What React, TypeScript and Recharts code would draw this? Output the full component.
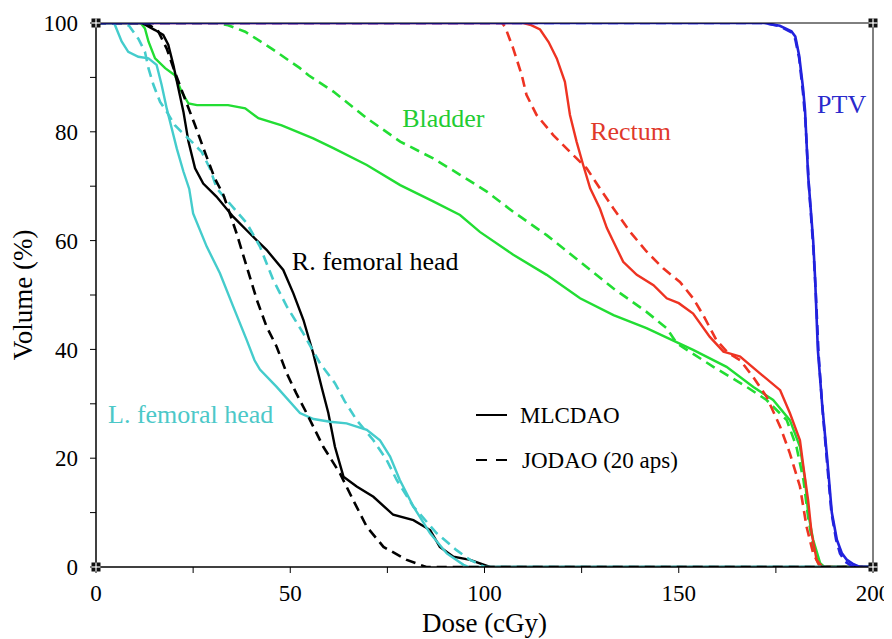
import { LineChart, Line, XAxis, YAxis, Legend, ReferenceDot } from 'recharts';

const FONT = '"Liberation Serif", "Times New Roman", serif';

// dose (cGy), volume (%) pairs
const ptvSolid: [number, number][] = [
  [0, 100], [172, 100], [176, 99.5], [179, 98.5], [180, 97.5], [181, 94], [182, 88], [182.5, 84],
  [183.3, 72], [184.6, 60], [185.1, 53], [185.8, 40], [186.9, 30], [188.2, 20], [189.4, 10],
  [190.7, 5], [192, 2.5], [193.3, 1.3], [195, 0.5], [196.6, 0], [200, 0],
];
const ptvDashed: [number, number][] = [
  [0, 100], [172, 100], [176, 99.4], [179, 98.3], [180, 97], [181, 93.5], [182, 87], [182.6, 82],
  [183.5, 70], [184.7, 58], [185.3, 50], [186, 39], [187, 29], [188.2, 19], [189.3, 10],
  [190.5, 5], [191.5, 2.5], [192.8, 1], [194.5, 0.2], [195.5, 0], [200, 0],
];
const rectumSolid: [number, number][] = [
  [0, 100], [110, 100], [112, 99.6], [114.3, 98.8], [116.5, 96.5], [118.6, 93.5], [120.7, 89.2],
  [122, 83.1], [123.7, 78.2], [125.4, 73.9], [127.2, 69.6], [129.7, 65.9], [131.5, 62.3],
  [133.2, 59.8], [135.7, 56.1], [139.2, 53.7], [143.5, 51.8], [146.9, 49.4], [150, 48.5],
  [153.7, 46.6], [158, 42.3], [161.5, 39.6], [165.8, 38.7], [170.9, 35.6], [176.1, 32.5],
  [178.6, 28.3], [181.2, 23.3], [182.1, 18.4], [183.3, 12.3], [184.2, 6.2], [185.5, 1.3],
  [187, 0], [200, 0],
];
const rectumDashed: [number, number][] = [
  [0, 100], [104.5, 100], [105.3, 99.3], [107.4, 95.3], [109.6, 90.4], [110.8, 86.8], [113.4, 83.1],
  [117.7, 79.4], [122, 76.3], [126.3, 73.3], [129.7, 69.6], [133.2, 65.9], [137.5, 61.6],
  [141.7, 58], [146, 54.9], [150.3, 52.4], [153.7, 49.4], [156.3, 46.3], [159.7, 41.7],
  [162.5, 39.5], [165.8, 38], [169.1, 35], [172.6, 31.3], [176.1, 25.8], [178.6, 20.9],
  [181.2, 14.8], [182.9, 7.4], [184.6, 2.5], [186.4, 0], [200, 0],
];
const bladderSolid: [number, number][] = [
  [0, 100], [11.5, 100], [12.6, 99], [13.5, 96.6], [15.2, 93.5], [17.8, 91.7], [20.3, 90.4],
  [22, 87.4], [23.8, 85.2], [26, 84.9], [34, 84.9], [38.4, 84.3], [41.8, 82.5], [47.8, 81.2],
  [55.9, 78.8], [61.1, 77], [69.7, 73.9], [78.3, 70.2], [86.8, 67.2], [93.7, 64.7], [98.8, 61.6],
  [107.4, 57.4], [116, 53.7], [124.6, 49.4], [133.2, 46.3], [141.7, 43.9], [153.7, 39.9],
  [162.3, 36.8], [169.2, 33.1], [174.3, 30.7], [178.6, 27], [181.2, 22.1], [182.5, 16],
  [183.3, 9.9], [184.6, 5], [186.4, 0.7], [187.5, 0], [200, 0],
];
const bladderDashed: [number, number][] = [
  [0, 100], [31, 100], [34, 99.6], [38.4, 98.4], [45.2, 95.3], [52.5, 91.7], [54.7, 90.4],
  [61.1, 87.4], [69.7, 82.5], [78.3, 78.2], [86.8, 75.1], [93.7, 72.1], [100.6, 69], [107.4, 65.3],
  [116, 61], [124.6, 56.1], [133.2, 51.2], [141.7, 46.9], [146.9, 43.9], [149.5, 41.1],
  [158.9, 36.8], [167.5, 33.1], [172.6, 30.7], [177.8, 27], [180.3, 22.1], [182.1, 16],
  [183.3, 9.2], [184.6, 3.7], [185.9, 0.7], [187, 0], [200, 0],
];
const rFemSolid: [number, number][] = [
  [0, 100], [11.8, 100], [15.2, 98.7], [17.3, 97.8], [18.6, 96], [19.9, 92.3], [21.2, 88],
  [22.5, 83.7], [23.8, 78.2], [25.5, 73.3], [27.6, 70.5], [31, 68.1], [35.3, 64.4], [39.6, 61.3],
  [43.9, 58.3], [48.2, 54.6], [50.8, 50.3], [53.4, 45.4], [55.9, 39.3], [58.1, 33], [59.8, 28.3],
  [61.5, 22.1], [63.7, 16.6], [67.1, 14.8], [71.4, 12.9], [76.5, 9.6], [81.7, 8.6], [86, 6.8],
  [88.5, 3.7], [92, 1.9], [96.3, 1.3], [101.4, 0], [200, 0],
];
const rFemDashed: [number, number][] = [
  [0, 100], [13, 100], [16, 98.5], [18.2, 95.3], [20.3, 91], [22.5, 86.8], [25.5, 81.2],
  [28, 76.3], [30.6, 71.4], [32.8, 68.4], [36.2, 61.3], [38.8, 55.2], [41.4, 49.1], [43.9, 44.2],
  [46.5, 40.5], [49.1, 35.6], [51.5, 32], [54.2, 28.3], [58.5, 22.1], [62.8, 17.2], [66.2, 12.3],
  [69.7, 7.4], [74, 3.7], [80, 1.3], [85, 0], [200, 0],
];
const lFemSolid: [number, number][] = [
  [0, 100], [4.5, 100], [4.9, 99.6], [6.6, 96.6], [8.3, 94.7], [10.9, 93.8], [13.5, 93.5],
  [15.6, 92.3], [16.9, 88.6], [18.2, 84.3], [19.5, 80.6], [20.8, 76.9], [22.5, 72.7], [24, 69.5],
  [25, 65], [28.5, 58.9], [31.9, 54], [35.3, 47.9], [38.8, 41.7], [40.8, 38], [42.2, 36.3],
  [46.5, 33.1], [52.5, 28.3], [56, 27.2], [60.2, 26.7], [64.5, 26.4], [69.7, 25.2], [73.1, 23.3],
  [75.7, 20.3], [78.2, 16], [81.7, 11.1], [86, 6.2], [90.3, 2.5], [94.6, 0.4], [96, 0], [200, 0],
];
const lFemDashed: [number, number][] = [
  [0, 100], [7, 100], [8.5, 99.5], [10.9, 97.1], [12.6, 94.7], [13.5, 91.7], [14.8, 88.6],
  [16.5, 85.5], [18.2, 83.7], [20.3, 81.2], [22, 80], [24.6, 78.2], [27.2, 76.3], [29.3, 73.3],
  [31.1, 69.6], [33.6, 67.5], [38.8, 63.2], [42.2, 58.9], [45.6, 52.8], [49.1, 47.9], [53.4, 42.9],
  [57.7, 37.4], [61.5, 33.8], [64, 30.5], [67.1, 27], [71.4, 23.3], [74.8, 19.7], [77.4, 16],
  [81.7, 11.1], [87.7, 6.2], [92.8, 3.1], [96.3, 1.3], [100, 0], [200, 0],
];

const xTicks = [0, 25, 50, 75, 100, 125, 150, 175, 200];
const yTicks = [0, 10, 20, 30, 40, 50, 60, 70, 80, 90, 100];

// structure labels: text, dose, volume (left edge / baseline), colour
const structLabels: [string, number, number, string][] = [
  ['PTV', 185.6, 83.5, '#2a2acc'],
  ['Rectum', 127.2, 78.5, '#e0392b'],
  ['Bladder', 78.8, 80.9, '#22cc33'],
  ['R. femoral head', 50.4, 54.6, '#000000'],
  ['L. femoral head', 3.1, 26.5, '#4cc8c8'],
];
const corners: [number, number][] = [[0, 0], [0, 100], [200, 0], [200, 100]];

const C_PTV = '#2222dd';
const C_RECT = '#ee3322';
const C_BLAD = '#22dd33';
const C_LFEM = '#44cccc';
const C_RFEM = '#000000';
const DASH = '10 6';

const toPts = (arr: [number, number][]) => arr.map(([x, y]) => ({ x, y }));

const renderLegend = () => (
  <svg width={240} height={90} style={{ display: 'block' }}>
    <line x1={8} y1={20} x2={39} y2={20} stroke="#000" strokeWidth={2} />
    <text x={52} y={28} fontFamily={FONT} fontSize={23} fill="#000">MLCDAO</text>
    <line x1={8} y1={65} x2={39} y2={65} stroke="#000" strokeWidth={2} strokeDasharray="11 9" />
    <text x={54} y={73} fontFamily={FONT} fontSize={23} fill="#000">JODAO (20 aps)</text>
  </svg>
);

const cornerMark = (props: any) => {
  const { cx, cy } = props;
  if (cx == null || cy == null) return <g />;
  return (
    <g>
      <rect x={cx - 4.5} y={cy - 4.5} width={9} height={9} fill="#111" />
      <line x1={cx - 4.5} y1={cy} x2={cx + 4.5} y2={cy} stroke="#fff" strokeWidth={1.2} />
      <line x1={cx} y1={cy - 4.5} x2={cx} y2={cy + 4.5} stroke="#fff" strokeWidth={1.2} />
    </g>
  );
};

const labelShape = (text: string, color: string) => (props: any) => {
  const { cx, cy } = props;
  if (cx == null || cy == null) return <g />;
  return (
    <text x={cx} y={cy} fontFamily={FONT} fontSize={26} fill={color} textAnchor="start">
      {text}
    </text>
  );
};

const lineProps = {
  dataKey: 'y',
  dot: false,
  activeDot: false,
  isAnimationActive: false,
  type: 'linear' as const,
};

export default function App() {
  const tickStyle = { fontFamily: FONT, fontSize: 23, fill: '#000' };
  return (
    <div style={{ width: 884, height: 631 }}>
      <style>{'html, body { overflow: hidden; }'}</style>
      <LineChart width={884} height={631} margin={{ top: 7, right: 11, bottom: 12, left: 0 }}>
        <XAxis
          type="number" dataKey="x" domain={[0, 200]} ticks={xTicks} allowDataOverflow
          tickFormatter={(v: number) => (v % 50 === 0 ? String(v) : '')}
          tick={tickStyle} tickSize={6} tickMargin={12} height={60}
          stroke="#000" axisLine={{ stroke: '#000', strokeWidth: 1.5 }}
          label={{ value: 'Dose (cGy)', position: 'insideBottom', offset: -5, fontFamily: FONT, fontSize: 27, fill: '#000' }}
        />
        <XAxis
          xAxisId="top" orientation="top" type="number" dataKey="x" domain={[0, 200]} ticks={xTicks}
          tick={false} tickSize={6} height={8} stroke="#000"
        />
        <YAxis
          type="number" domain={[0, 100]} ticks={yTicks} allowDataOverflow
          tickFormatter={(v: number) => (v % 20 === 0 ? String(v) : '')}
          tick={tickStyle} tickSize={6} tickMargin={12} width={88}
          stroke="#000" axisLine={{ stroke: '#000', strokeWidth: 1.5 }}
          label={{ value: 'Volume (%)', angle: -90, position: 'insideLeft', offset: 14, style: { textAnchor: 'middle' }, fontFamily: FONT, fontSize: 27, fill: '#000' }}
        />
        <YAxis
          yAxisId="right" orientation="right" type="number" domain={[0, 100]} ticks={yTicks}
          tick={false} tickSize={6} width={8} stroke="#000"
        />
        <Legend
          layout="vertical" align="center" verticalAlign="middle"
          content={renderLegend}
          wrapperStyle={{ position: 'absolute', left: 460, top: 387, width: 240, height: 90 }}
        />

        <Line {...lineProps} data={toPts(bladderDashed)} stroke={C_BLAD} strokeWidth={2.6} strokeDasharray={DASH} />
        <Line {...lineProps} data={toPts(bladderSolid)} stroke={C_BLAD} strokeWidth={2.4} />
        <Line {...lineProps} data={toPts(rectumDashed)} stroke={C_RECT} strokeWidth={2.6} strokeDasharray={DASH} />
        <Line {...lineProps} data={toPts(rectumSolid)} stroke={C_RECT} strokeWidth={2.4} />
        <Line {...lineProps} data={toPts(rFemSolid)} stroke={C_RFEM} strokeWidth={2.4} />
        <Line {...lineProps} data={toPts(lFemSolid)} stroke={C_LFEM} strokeWidth={2.4} />
        <Line {...lineProps} data={toPts(lFemDashed)} stroke={C_LFEM} strokeWidth={2.6} strokeDasharray={DASH} />
        <Line {...lineProps} data={toPts(rFemDashed)} stroke={C_RFEM} strokeWidth={2.6} strokeDasharray={DASH} />
        <Line {...lineProps} data={toPts(ptvSolid)} stroke={C_PTV} strokeWidth={2.6} />
        <Line {...lineProps} data={toPts(ptvDashed)} stroke={C_PTV} strokeWidth={2.6} strokeDasharray={DASH} />

        {structLabels.map(([text, x, y, color]) => (
          <ReferenceDot key={text} x={x} y={y} r={1} ifOverflow="visible" shape={labelShape(text, color)} />
        ))}
        {corners.map(([x, y]) => (
          <ReferenceDot key={`${x}-${y}`} x={x} y={y} r={4} ifOverflow="visible" shape={cornerMark} />
        ))}
      </LineChart>
    </div>
  );
}
